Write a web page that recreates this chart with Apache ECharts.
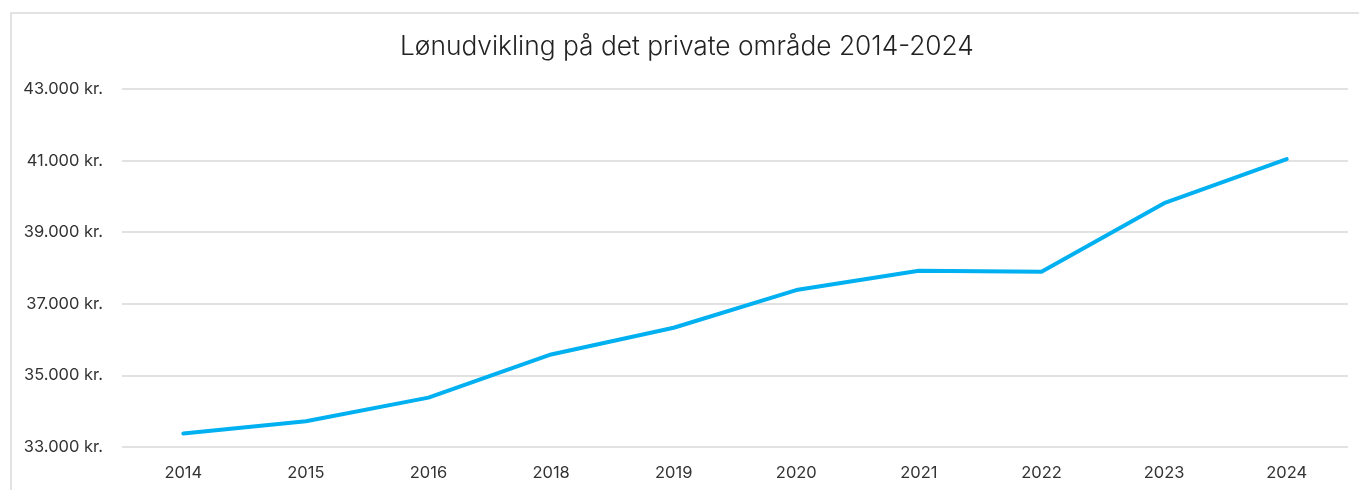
<!DOCTYPE html>
<html>
<head>
<meta charset="utf-8">
<script src="https://cdn.jsdelivr.net/npm/echarts@6/dist/echarts.min.js"></script>
<style>
html,body{margin:0;padding:0;background:#fff;}
#c{width:1359px;height:490px;}
</style>
</head>
<body>
<div id="c"></div>
<script>
const titleText = 'Lønudvikling på det private område 2014-2024';
const years = ['2014','2015','2016','2018','2019','2020','2021','2022','2023','2024'];
const wages = [33375, 33720, 34380, 35585, 36330, 37384, 37925, 37897, 39810, 41040];
const yMin = 33000, yMax = 43000, yStep = 2000;

function fmt(v){
  return String(Math.round(v)).replace(/\B(?=(\d{3})+(?!\d))/g, '.') + ' kr.';
}

const chart = echarts.init(document.getElementById('c'));
chart.setOption({
  animation: false,
  backgroundColor: '#fff',
  graphic: [{
    type: 'rect',
    shape: { x: 11, y: 13, width: 1400, height: 520 },
    style: { fill: 'none', stroke: '#d9d9d9', lineWidth: 1.5 },
    silent: true
  }],
  title: {
    text: titleText,
    left: 395,
    top: 29,
    textStyle: { fontFamily: 'Inter', fontSize: 26.3, fontWeight: 300, color: '#222' }
  },
  grid: { left: 122, right: 11, top: 89, bottom: 43 },
  xAxis: {
    type: 'category',
    data: years,
    boundaryGap: true,
    axisLine: { show: false },
    axisTick: { show: false },
    axisLabel: { margin: 18, fontFamily: 'Inter', fontSize: 16.5, fontWeight: 400, color: '#333' }
  },
  yAxis: {
    type: 'value',
    min: yMin, max: yMax, interval: yStep,
    axisLine: { show: false },
    axisTick: { show: false },
    splitLine: { lineStyle: { color: '#d9d9d9', width: 1.5 } },
    axisLabel: { margin: 19, fontFamily: 'Inter', fontSize: 16.5, fontWeight: 400, color: '#333', formatter: fmt }
  },
  series: [{
    type: 'line',
    data: wages,
    showSymbol: false,
    lineStyle: { color: '#00B0F0', width: 4, cap: 'round', join: 'round' },
    itemStyle: { color: '#00B0F0' }
  }]
});
</script>
</body>
</html>
